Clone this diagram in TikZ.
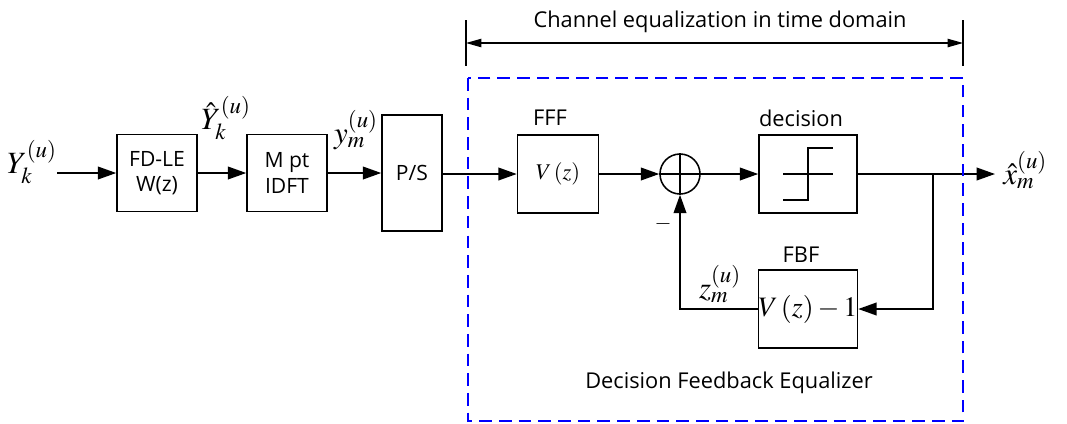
\documentclass[tikz,border=0pt]{standalone}
\usepackage{mathptmx}
\usepackage[no-math]{fontspec}
\setmainfont{Open Sans}
\usetikzlibrary{arrows.meta}
\pgfdeclarelayer{edgelayer}
\pgfdeclarelayer{nodelayer}
\pgfsetlayers{edgelayer,nodelayer,main}
\tikzstyle{block}=[draw=black, line width=1.1pt, fill=white, inner sep=0pt, align=center, font=\fontsize{15}{18}\selectfont]
\tikzstyle{edge}=[draw=black, line width=1.1pt]
\tikzstyle{arrow}=[edge, -{Triangle[length=13pt,width=9pt]}]
\tikzstyle{sig}=[inner sep=0pt, font=\fontsize{22}{26}\selectfont]
\tikzstyle{caption}=[inner sep=0pt, font=\fontsize{15.5}{18}\selectfont]
\tikzstyle{dfe}=[draw=blue, line width=2pt, dash pattern=on 9pt off 5pt]

\begin{document}
\begin{tikzpicture}[x=0.025cm, y=-0.025cm]
						\useasboundingbox (0,0) rectangle (1067,423);
						\begin{pgfonlayer}{nodelayer}
							\node [style=sig] (yin) at (32,162) {$Y_k^{(u)}$};
							\node [style=block, minimum width=2cm, minimum height=1.925cm] (fdle) at (157,173) {FD-LE\\W(z)};
							\node [style=block, minimum width=2cm, minimum height=1.925cm] (idft) at (287,173) {M pt\\IDFT};
							\node [style=block, minimum width=1.5cm, minimum height=2.9cm] (ps) at (412,173) {P/S};
							\node [style=block, minimum width=2.025cm, minimum height=1.95cm] (fff) at (558,174) {\fontsize{16}{18}\selectfont$V\,(z)$};
							\node [draw=black, line width=1.1pt, circle, minimum size=1cm, inner sep=0pt] (sum) at (680,174) {};
							\node [style=block, minimum width=2.45cm, minimum height=1.95cm] (dec) at (808,174) {};
							\node [style=block, minimum width=2.45cm, minimum height=1.95cm] (fbf) at (808,309) {\fontsize{20}{22}\selectfont$V\,(z)-1$};
							\node [style=sig, anchor=west] (xhat) at (1003,170) {$\hat{x}_m^{(u)}$};
							\node [style=sig] (yhat) at (226,118) {$\hat{Y}_k^{(u)}$};
							\node [style=sig] (ym) at (356,130) {$y_m^{(u)}$};
							\node [style=sig] (zm) at (720,284) {$z_m^{(u)}$};
							\node [style=caption] (minus) at (663,224) {$-$};
							\node [style=caption] (ffflbl) at (550,118) {FFF};
							\node [style=caption] (declbl) at (801,118) {decision};
							\node [style=caption] (fbflbl) at (801,255) {FBF};
							\node [style=caption] (dfelbl) at (729,383) {Decision Feedback Equalizer};
							\node [style=caption] (chlbl) at (720,22) {Channel equalization in time domain};
						\end{pgfonlayer}
						\coordinate (tapl) at (466,43);
						\coordinate (tapr) at (963,43);
						\coordinate (branch) at (933,174);
						\coordinate (out) at (995,174);
						\begin{pgfonlayer}{edgelayer}
							\draw [style=arrow] (yin.east |- fdle) to (fdle);
							\draw [style=arrow] (fdle) to (idft);
							\draw [style=arrow] (idft) to (ps);
							\draw [style=arrow] (ps.east |- fff) to (fff);
							\draw [style=arrow] (fff) to (sum);
							\draw [style=arrow] (sum) to (dec);
							\draw [style=arrow] (dec) to (out);
							\draw [style=arrow] (branch) |- (fbf.east);
							\draw [style=arrow] (fbf.west) -| (sum.south);
							% span of the time domain part
							\draw [line width=0.8pt] ([yshift=23*0.025cm]tapl) to ([yshift=-23*0.025cm]tapl);
							\draw [line width=0.8pt] ([yshift=23*0.025cm]tapr) to ([yshift=-23*0.025cm]tapr);
							\draw [line width=0.8pt, {Triangle[length=11pt,width=6pt]}-{Triangle[length=11pt,width=6pt]}] (tapl) to (tapr);
						\end{pgfonlayer}
						\draw [style=edge] (sum.north) to (sum.south);
						\draw [style=edge] (sum.west) to (sum.east);
						% decision symbol
						\draw [style=edge] ([shift={(-25,0)}]dec.center) to ([shift={(25,0)}]dec.center);
						\draw [style=edge] ([shift={(-25,26)}]dec.center) -- ([shift={(0,26)}]dec.center) -- ([shift={(0,-26)}]dec.center) -- ([shift={(25,-26)}]dec.center);
						\draw [style=dfe] (468,78) rectangle (963,421);
					\end{tikzpicture}
\end{document}
